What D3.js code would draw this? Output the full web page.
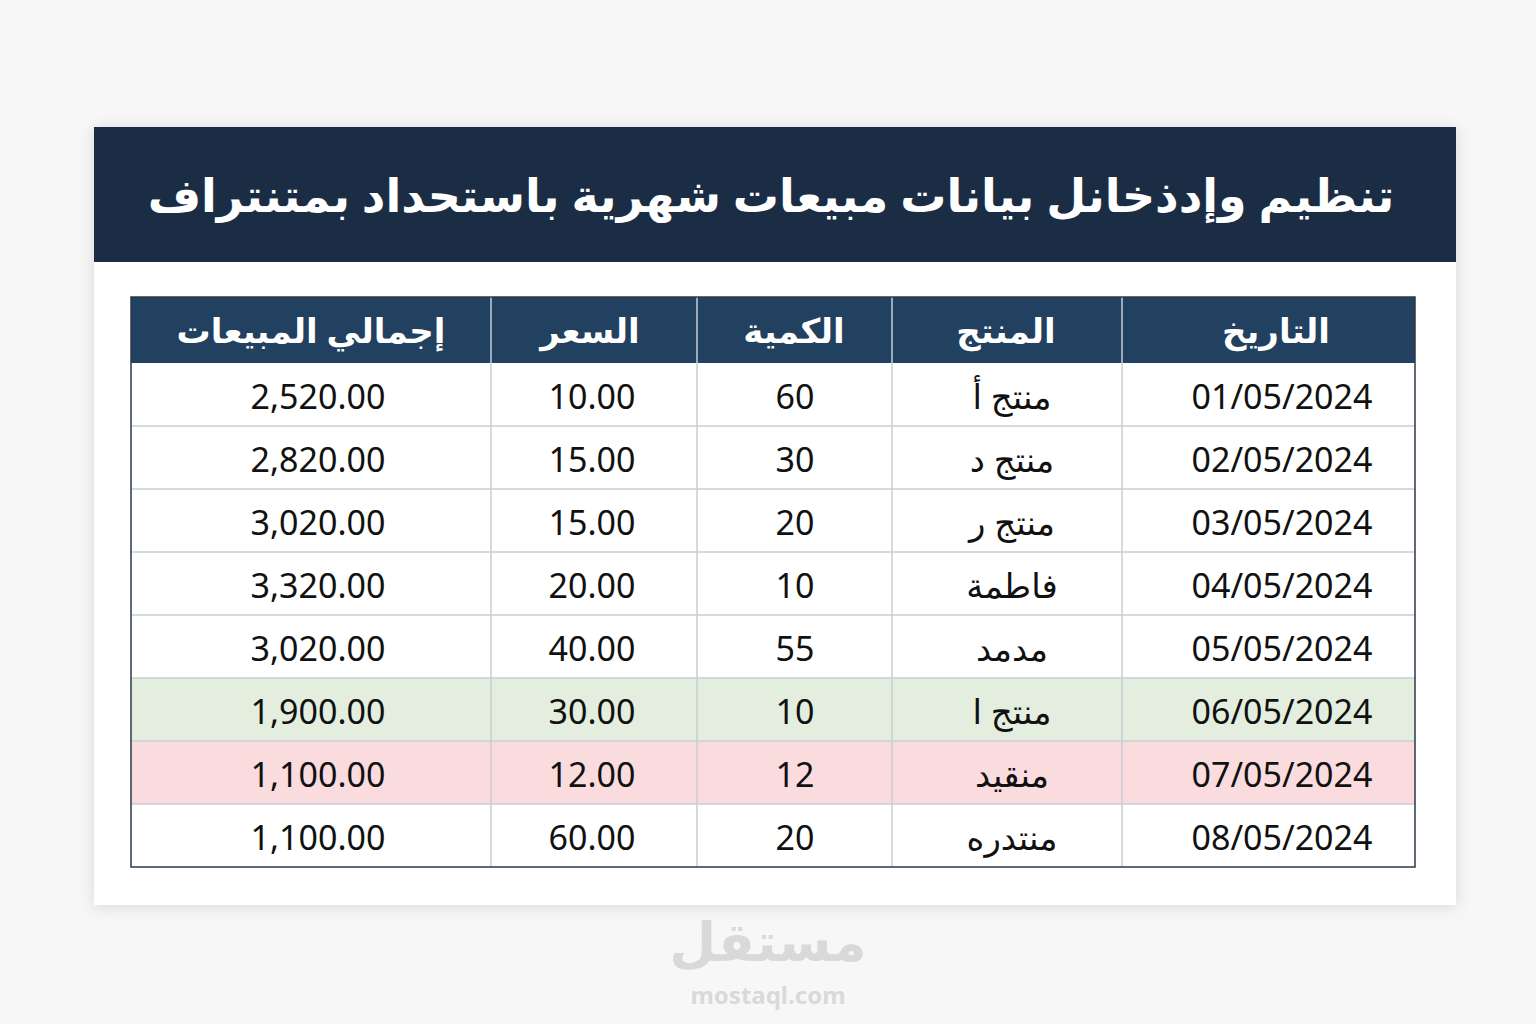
<!DOCTYPE html>
<html><head><meta charset="utf-8">
<script src="https://cdn.jsdelivr.net/npm/d3@7"></script>
<style>body{margin:0;background:#f7f7f7;}svg{display:block;}</style>
</head><body><svg></svg>
<script>
const TITLE = "تنظيم وإدذخانل بيانات مبيعات شهرية باستحداد بمتنتراف";
const columns = ["التاريخ", "المنتج", "الكمية", "السعر", "إجمالي المبيعات"];
const dates = ["01/05/2024","02/05/2024","03/05/2024","04/05/2024","05/05/2024","06/05/2024","07/05/2024","08/05/2024"];
const products = ["منتج أ","منتج د","منتج ر","فاطمة","مدمد","منتج ا","منقيد","منتدره"];
const quantities = [60,30,20,10,55,10,12,20];
const prices = [10,15,15,20,40,30,12,60];
const totals = [2520,2820,3020,3320,3020,1900,1100,1100];
const rowHighlight = [null,null,null,null,null,"#e4eedf","#fadcdf",null];

const width = 1536, height = 1024;
const svg = d3.select("svg").attr("width", width).attr("height", height);
const font = "'Noto Sans', 'DejaVu Sans', sans-serif";

// card
svg.append("rect").attr("x",94).attr("y",127).attr("width",1362).attr("height",778).attr("fill","#fff")
  .style("filter","drop-shadow(0 2px 8px rgba(0,0,0,0.12))");
svg.append("rect").attr("x",94).attr("y",127).attr("width",1362).attr("height",135).attr("fill","#1b2d45");
svg.append("text").attr("x",771).attr("y",194).attr("text-anchor","middle").attr("dominant-baseline","central")
  .attr("fill","#fff").attr("font-family",font).attr("font-weight",700).attr("font-size",46).text(TITLE);

// column edges (right to left: date, product, qty, price, total)
const colEdges = [1415, 1122, 892, 697, 491, 131];
const y = d3.scaleBand().domain(d3.range(8)).range([363, 867]);
const fmt = d3.format(",.2f");
const rows = dates.map((d,i) => [d, products[i], String(quantities[i]), fmt(prices[i]), fmt(totals[i])]);
const textX = [1282, 1012, 795, 592, 318];

// header row
svg.append("rect").attr("x",131).attr("y",297).attr("width",1284).attr("height",66).attr("fill","#22405f");
svg.selectAll("text.head").data(columns).join("text").attr("class","head")
  .attr("x",(d,i)=>[1276,1006,794,590,311][i]).attr("y",330).attr("text-anchor","middle").attr("dominant-baseline","central")
  .attr("fill","#fff").attr("font-family",font).attr("font-weight",700).attr("font-size",34).text(d=>d);

// row backgrounds
svg.selectAll("rect.row").data(rowHighlight).join("rect").attr("class","row")
  .attr("x",131).attr("width",1284).attr("y",(d,i)=>y(i)).attr("height",y.bandwidth())
  .attr("fill",d=>d||"#fff");
// grid
svg.selectAll("line.h").data(d3.range(1,8)).join("line").attr("class","h")
  .attr("x1",131).attr("x2",1415).attr("y1",i=>y(i)).attr("y2",i=>y(i)).attr("stroke","#c9ced3").attr("stroke-width",1.5);
svg.selectAll("line.v").data(colEdges.slice(1,5)).join("line").attr("class","v")
  .attr("x1",d=>d).attr("x2",d=>d).attr("y1",297).attr("y2",867).attr("stroke","#c9ced3").attr("stroke-width",1.5);
svg.append("rect").attr("x",131).attr("y",297).attr("width",1284).attr("height",570).attr("fill","none").attr("stroke","#2b3a48").attr("stroke-width",1.5);

// cells
rows.forEach((r,ri) => {
  svg.selectAll(`text.r${ri}`).data(r).join("text").attr("class",`r${ri}`)
    .attr("x",(d,ci)=>textX[ci]).attr("y",y(ri)+y.bandwidth()/2+1).attr("text-anchor","middle").attr("dominant-baseline","central")
    .attr("fill","#111").attr("font-family",font).attr("font-size",34).text(d=>d);
});

// watermark
svg.append("text").attr("x",768).attr("y",940).attr("text-anchor","middle").attr("dominant-baseline","central")
  .attr("fill","#d9d9d9").attr("font-family",font).attr("font-weight",700).attr("font-size",54).text("مستقل");
svg.append("text").attr("x",768).attr("y",994).attr("text-anchor","middle").attr("dominant-baseline","central")
  .attr("fill","#d9d9d9").attr("font-family",font).attr("font-weight",700).attr("font-size",24).text("mostaql.com");
</script></body></html>
